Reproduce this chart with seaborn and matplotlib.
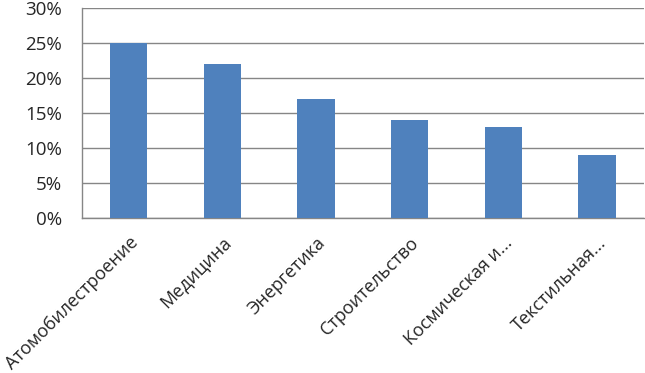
import matplotlib
matplotlib.use("Agg")
import matplotlib.pyplot as plt
import seaborn as sns
import pandas as pd
import numpy as np
from matplotlib.ticker import PercentFormatter, FixedLocator

# data
sectors = ["Атомобилестроение", "Медицина", "Энергетика", "Строительство",
           "Космическая и...", "Текстильная..."]
shares = [25, 22, 17, 14, 13, 9]

df = pd.DataFrame({"sector": sectors, "share": shares})

sns.set_style("white")
plt.rcParams["font.family"] = ["Open Sans", "DejaVu Sans"]

fig, ax = plt.subplots(figsize=(6.45, 3.73), dpi=100)
fig.subplots_adjust(left=0.127, right=0.998, top=0.979, bottom=0.415)

sns.barplot(data=df, x="sector", y="share", color="#4F81BD", saturation=1,
            width=0.4, linewidth=0, ax=ax, zorder=3)

ax.set_ylim(0, 30)
ax.set_xlim(-0.5, len(sectors) - 0.5)
ax.set_yticks(np.arange(0, 31, 5))
ax.yaxis.set_major_formatter(PercentFormatter(decimals=0))
ax.grid(axis="y", color="#868686", linewidth=1, zorder=0)
ax.set_xlabel("")
ax.set_ylabel("")

# category labels at centres, tick marks at boundaries
ax.set_xticks(range(len(sectors)))
ax.set_xticklabels(sectors, rotation=45, ha="right", rotation_mode="anchor",
                   fontsize=13)
ax.xaxis.set_minor_locator(FixedLocator(np.arange(-0.5, len(sectors), 1)))
ax.tick_params(axis="x", which="major", length=0, pad=11)
ax.tick_params(axis="x", which="minor", length=3.5, color="#868686", width=1)
ax.tick_params(axis="y", length=4.5, color="#868686", width=1, labelsize=13.5, pad=10)
ax.tick_params(axis="both", direction="out")

for s in ["top", "right"]:
    ax.spines[s].set_visible(False)
for s in ["left", "bottom"]:
    ax.spines[s].set_color("#868686")
    ax.spines[s].set_linewidth(1)

fig.savefig("out.png", dpi=100)
